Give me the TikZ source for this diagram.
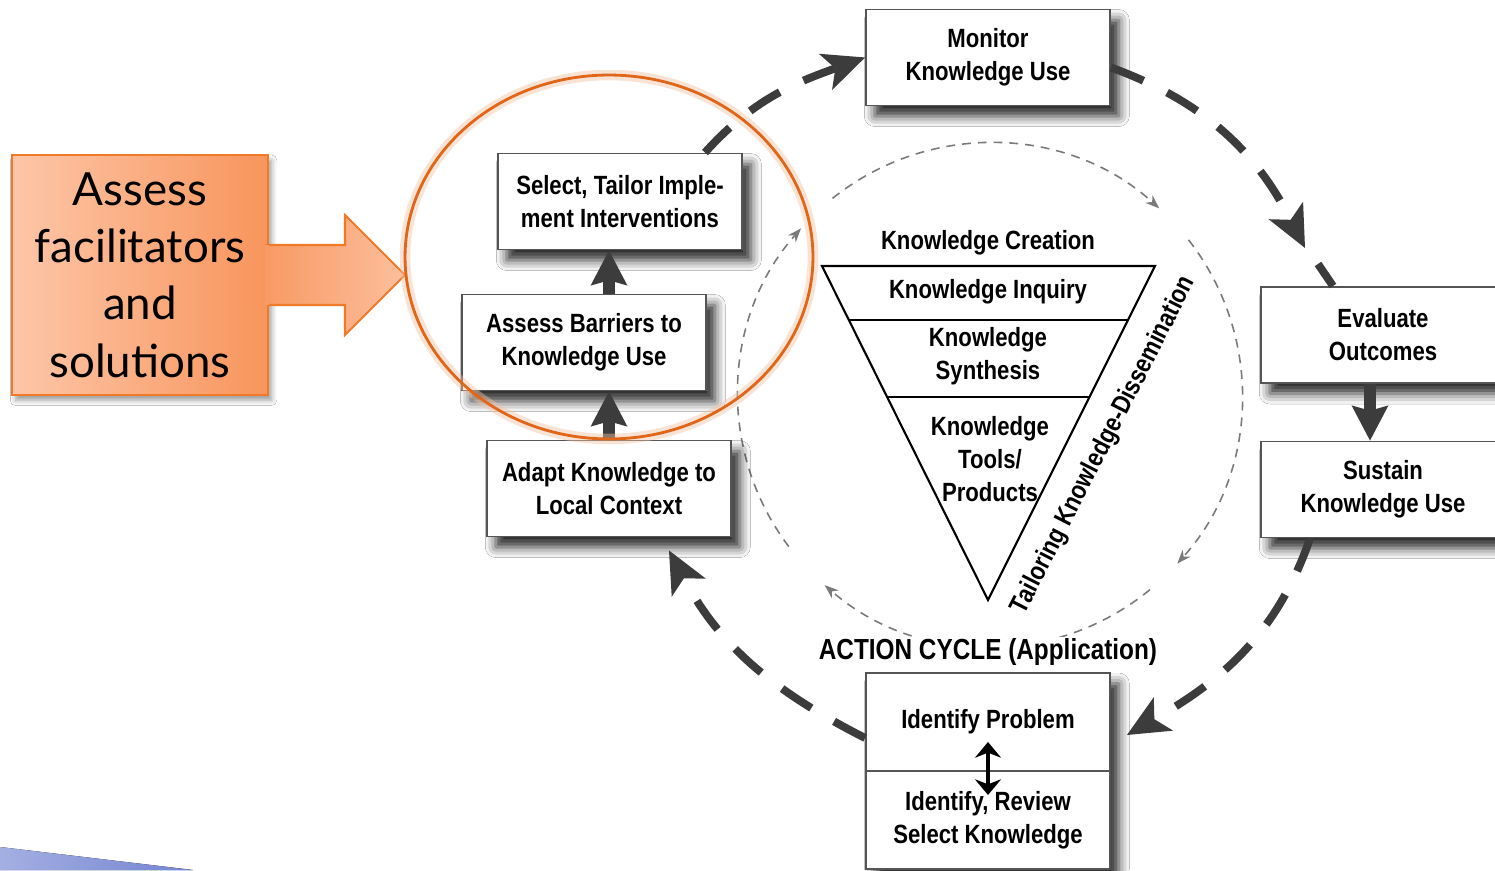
\documentclass[tikz,border=0pt]{standalone}
\usepackage{fontspec}
\setmainfont{Liberation Sans}
\newfontfamily\boxfont[FakeStretch=0.84]{Liberation Sans}
\newfontfamily\notefont{Lato}
\usetikzlibrary{arrows.meta,shadows.blur,calc}
\definecolor{boxline}{HTML}{555555}
\definecolor{cycle}{HTML}{3C3C3C}
\definecolor{loopgray}{HTML}{7A7A7A}
\definecolor{orangeline}{HTML}{E0661A}
\definecolor{notelight}{HTML}{FDC6A8}
\definecolor{notedark}{HTML}{F8955C}
\definecolor{noteedge}{HTML}{F07A28}
\definecolor{slideblue}{HTML}{7384D2}

\begin{document}
\begin{tikzpicture}[x=0.02cm, y=0.02cm,
  plainbox/.style={draw=boxline, line width=1.1pt, minimum width=4.88cm, align=center,
    font=\boxfont\fontsize{15}{18.8}\selectfont\bfseries},
  stepbox/.style={plainbox, fill=white, minimum height=1.92cm,
    blur shadow={shadow xshift=5pt, shadow yshift=-6pt, shadow blur radius=6pt, shadow opacity=85}},
  lbl/.style={align=center, inner sep=1pt, font=\boxfont\fontsize{15}{18.8}\selectfont\bfseries},
  notebox/.style={draw=noteedge, line width=1.2pt, left color=notelight, right color=notedark,
    minimum width=5.12cm, minimum height=4.8cm, align=center,
    font=\notefont\fontsize{26}{32.7}\selectfont,
    blur shadow={shadow xshift=2pt, shadow yshift=-3pt, shadow blur radius=3pt, shadow opacity=40}},
  cyc/.style={draw=cycle, line width=4.5pt, dash pattern=on 20pt off 15pt,
    -{Stealth[length=24pt, width=22pt, inset=6pt, line width=0pt]}},
  uparrow/.style={draw=cycle, line width=7pt, -{Stealth[length=20pt, width=21pt, inset=3pt, line width=0pt]}},
  loop/.style={draw=loopgray, line width=0.9pt, dash pattern=on 5pt off 4pt,
    -{Stealth[length=8pt, width=6pt, line width=0pt]}}]
\fill[white] (0,0) rectangle (1495,870);
\clip (0,0) rectangle (1495,870);
\useasboundingbox (0,0) rectangle (1495,870);
%
\fill[left color=slideblue!65, right color=slideblue] (0,0) -- (0,23) -- (193,0) -- cycle;
%
\coordinate (kc) at (990,475);
\draw[loop] (kc) ++(128.7:5.04cm) arc[start angle=128.7, end angle=47.8, radius=5.04cm];
\draw[loop] (kc) ++(38:5.04cm) arc[start angle=38, end angle=-42, radius=5.04cm];
\draw[loop] (kc) ++(-50.6:5.04cm) arc[start angle=-50.6, end angle=-131, radius=5.04cm];
\draw[loop] (kc) ++(-143:5.04cm) arc[start angle=-143, end angle=-221.4, radius=5.04cm];
%
\coordinate (tl) at (822,604);
\coordinate (tr) at (1155,604);
\coordinate (tb) at (988,270);
\draw[line width=1.2pt, line join=miter] (tl) -- (tr) -- (tb) -- cycle;
\draw[line width=1.2pt] ($(tl)!0.162!(tb)$) -- ($(tr)!0.162!(tb)$);
\draw[line width=1.2pt] ($(tl)!0.392!(tb)$) -- ($(tr)!0.392!(tb)$);
\node[lbl] (kcr) at (988,627) {Knowledge Creation};
\node[lbl] (kin) at (988,578) {Knowledge Inquiry};
\node[lbl] (ksy) at (988,514) {Knowledge\\Synthesis};
\node[lbl] (kto) at (990,411) {Knowledge\\Tools/\\Products};
\node[lbl, rotate=63] (tkd) at (1104,425) {Tailoring Knowledge-Dissemination};
\node[lbl, fill=white, font=\boxfont\fontsize{16.5}{20}\selectfont\bfseries] (act) at (988,218) {ACTION CYCLE (Application)};
%
\node[stepbox] (mon) at (988,812.5) {Monitor\\Knowledge Use};
\node[stepbox] (sel) at (620,668.5) {Select, Tailor Imple-\\ment Interventions};
\node[stepbox] (asb) at (584,527.5) {Assess Barriers to\\Knowledge Use};
\node[stepbox] (ada) at (609,381.5) {Adapt Knowledge to\\Local Context};
\node[stepbox] (eva) at (1383,535) {Evaluate\\Outcomes};
\node[stepbox] (sus) at (1383,380.5) {Sustain\\Knowledge Use};
\node[stepbox, minimum height=3.92cm] (idb) at (988,99) {};
\node[plainbox, minimum height=1.96cm] (idp) at (988,148) {Identify Problem};
\node[plainbox, minimum height=1.96cm] (idk) at (988,50) {Identify, Review\\Select Knowledge};
%
\draw[uparrow] (ada.north) -- (ada.north |- asb.south);
\draw[uparrow] (ada.north |- asb.north) -- (ada.north |- sel.south);
\draw[uparrow] ([xshift=-0.26cm]eva.south) -- ([xshift=-0.26cm]sus.north);
\draw[line width=2.2pt, {Stealth[length=9pt, width=15pt, line width=0pt]}-{Stealth[length=9pt, width=15pt, line width=0pt]}]
  ([yshift=-0.4cm]idp.center) -- ([yshift=0.5cm]idk.center);
%
\coordinate (k1) at (1305,622);
\coordinate (k2) at (1318,606);
\draw[cyc] ([xshift=1.7cm]sel.north) to[out=48, in=200] (mon.west);
\draw[cyc] ([yshift=-0.2cm]mon.east) to[out=-20, in=117] (k1);
\draw[cyc, -] (k2) -- ([xshift=-1cm]eva.north);
\draw[cyc] ([xshift=-1.46cm]sus.south) to[out=-109, in=30] ([xshift=0.32cm, yshift=-0.26cm]idp.east);
\draw[cyc] ([yshift=-0.32cm]idp.west) to[out=153, in=-62] ([xshift=1.2cm, yshift=-0.26cm]ada.south);
%
\node[notebox] (note) at (140,595) {Assess\\facilitators\\and\\solutions};
\fill[left color=notedark!95, right color=notelight!85!notedark]
  (265,625) -- (345,625) -- (345,655) -- (405,595) -- (345,535) -- (345,565) -- (265,565) -- cycle;
\draw[noteedge, line width=1.2pt, line join=miter]
  (note.east |- 0,625) -- (345,625) -- (345,655) -- (405,595) -- (345,535) -- (345,565) -- (note.east |- 0,565);
%
\draw[orangeline!40, line width=6pt, opacity=0.45] (609,613) ellipse [x radius=4.08cm, y radius=3.64cm];
\draw[orangeline, line width=1.6pt] (609,613) ellipse [x radius=4.08cm, y radius=3.64cm];
\end{tikzpicture}
\end{document}
